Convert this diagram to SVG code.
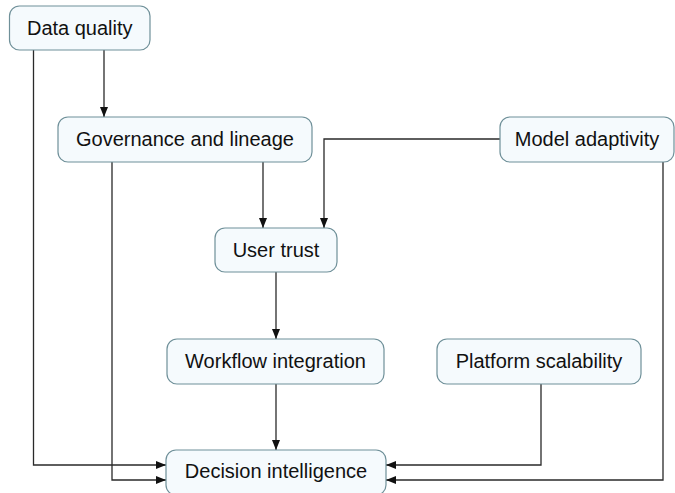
<svg xmlns="http://www.w3.org/2000/svg" width="675" height="493" viewBox="0 0 675 493">
  <defs>
    <marker id="arrow" viewBox="0 0 10 8" refX="10" refY="4" markerWidth="11" markerHeight="8" markerUnits="userSpaceOnUse" orient="auto">
      <path d="M0,0 L10,4 L0,8 Z" fill="#111"/>
    </marker>
    <style>
      .node rect { fill: #f5fafd; stroke: #6f9099; stroke-width: 1.2; }
      .node text { font-family: "Liberation Sans", Arial, sans-serif; font-size: 20px; fill: #111; text-anchor: middle; dominant-baseline: central; }
      .edge { fill: none; stroke: #2a2a2a; stroke-width: 1.3; marker-end: url(#arrow); }
    </style>
  </defs>
  <rect width="675" height="493" fill="#ffffff"/>

  <g id="connectors">
    <path class="edge" d="M104,50 V117"/>
    <path class="edge" d="M33.5,50 V465 H166"/>
    <path class="edge" d="M263,162 V228"/>
    <path class="edge" d="M112,162 V480 H166"/>
    <path class="edge" d="M500,139 H324 V228"/>
    <path class="edge" d="M663,162 V480 H386"/>
    <path class="edge" d="M276,272 V339"/>
    <path class="edge" d="M276,384 V450"/>
    <path class="edge" d="M541,384 V465 H386"/>
  </g>

  <g id="data-quality" class="node">
    <rect x="9.5" y="6" width="140.5" height="44" rx="10"/>
    <text x="79.75" y="27.5">Data quality</text>
  </g>
  <g id="governance" class="node">
    <rect x="58" y="117" width="254" height="45" rx="10"/>
    <text x="185" y="139">Governance and lineage</text>
  </g>
  <g id="model-adaptivity" class="node">
    <rect x="500" y="117" width="174" height="45" rx="10"/>
    <text x="587" y="139">Model adaptivity</text>
  </g>
  <g id="user-trust" class="node">
    <rect x="215" y="228" width="122" height="44" rx="10"/>
    <text x="276" y="249.5">User trust</text>
  </g>
  <g id="workflow-integration" class="node">
    <rect x="167" y="339" width="217" height="45" rx="10"/>
    <text x="275.5" y="361">Workflow integration</text>
  </g>
  <g id="platform-scalability" class="node">
    <rect x="437" y="339" width="204" height="45" rx="10"/>
    <text x="539" y="361">Platform scalability</text>
  </g>
  <g id="decision-intelligence" class="node">
    <rect x="166" y="450" width="220" height="45" rx="10"/>
    <text x="276" y="470.5">Decision intelligence</text>
  </g>
</svg>
